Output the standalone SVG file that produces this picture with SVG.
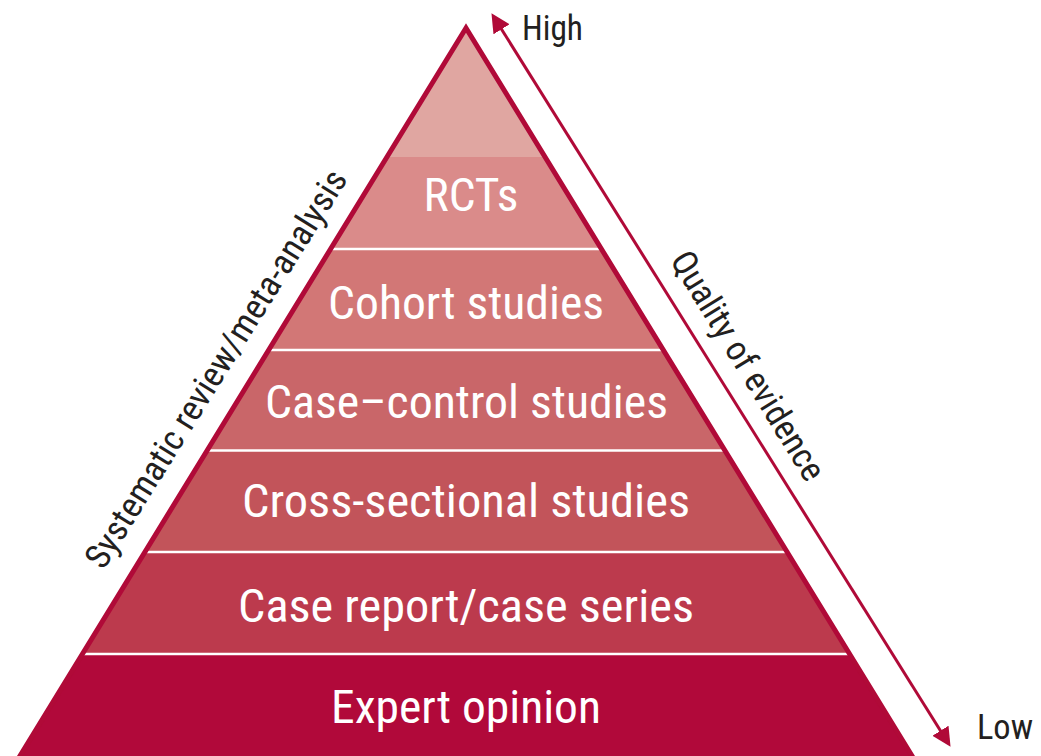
<svg xmlns="http://www.w3.org/2000/svg" width="1041" height="756" viewBox="0 0 1041 756">
  <style>
    .lbl { font-family: 'Liberation Sans Narrow', 'Roboto Condensed', 'DejaVu Sans Condensed', Roboto, sans-serif; font-stretch: condensed; }
    .tier { fill: #ffffff; font-size: 47px; text-anchor: middle; }
    .side { fill: #231f20; font-size: 35px; }
    .sep { stroke: #ffffff; stroke-width: 2.5; }
    .edge { fill: none; stroke: #b00a38; stroke-width: 5; stroke-linejoin: miter; stroke-miterlimit: 10; }
    .axis { stroke: #b00a38; stroke-width: 3; fill: none; }
  </style>
  <defs>
    <clipPath id="tri">
      <polygon points="466,28 -15,813 947,813"/>
    </clipPath>
    <marker id="head" markerUnits="userSpaceOnUse" markerWidth="20" markerHeight="20" refX="8" refY="9.5" orient="auto-start-reverse" viewBox="0 0 20 20">
      <path d="M0,0 L19,9.5 L0,19 z" fill="#b00a38"/>
    </marker>
  </defs>
  <rect width="1041" height="756" fill="#ffffff"/>

  <!-- pyramid tiers, bottom-up fills clipped to the triangle -->
  <g clip-path="url(#tri)">
    <g id="tier-apex"><rect x="0" y="0" width="1041" height="157" fill="#e0a6a1"/></g>
    <g id="tier-rct"><rect x="0" y="157" width="1041" height="92" fill="#da8b8a"/></g>
    <g id="tier-cohort"><rect x="0" y="249" width="1041" height="101" fill="#d27776"/></g>
    <g id="tier-casecontrol"><rect x="0" y="350" width="1041" height="100" fill="#c96669"/></g>
    <g id="tier-crosssectional"><rect x="0" y="450" width="1041" height="102" fill="#c2545a"/></g>
    <g id="tier-casereport"><rect x="0" y="552" width="1041" height="103" fill="#bc3a4d"/></g>
    <g id="tier-expert"><rect x="0" y="655" width="1041" height="110" fill="#b1093a"/></g>
    <line class="sep" x1="0" y1="249" x2="1041" y2="249"/>
    <line class="sep" x1="0" y1="350" x2="1041" y2="350"/>
    <line class="sep" x1="0" y1="450.5" x2="1041" y2="450.5"/>
    <line class="sep" x1="0" y1="552" x2="1041" y2="552"/>
    <line class="sep" x1="0" y1="654" x2="1041" y2="654"/>
  </g>
  <polygon id="pyramid-outline" class="edge" points="466,28 -15,813 947,813"/>

  <!-- tier labels -->
  <g id="labels-tiers" class="lbl">
    <text class="tier" x="471" y="211" textLength="95" lengthAdjust="spacingAndGlyphs">RCTs</text>
    <text class="tier" x="466" y="319" textLength="276" lengthAdjust="spacingAndGlyphs">Cohort studies</text>
    <text class="tier" x="466.5" y="418" textLength="403" lengthAdjust="spacingAndGlyphs">Case–control studies</text>
    <text class="tier" x="466" y="517" textLength="448" lengthAdjust="spacingAndGlyphs">Cross-sectional studies</text>
    <text class="tier" x="466" y="622" textLength="456" lengthAdjust="spacingAndGlyphs">Case report/case series</text>
    <text class="tier" x="466" y="723" textLength="270" lengthAdjust="spacingAndGlyphs">Expert opinion</text>
  </g>

  <!-- quality axis -->
  <g id="connectors">
    <line class="axis" x1="497.3" y1="22.5" x2="944.7" y2="737.5" marker-start="url(#head)" marker-end="url(#head)"/>
  </g>

  <g id="labels-side" class="lbl">
    <text class="side" x="522" y="40" textLength="61" lengthAdjust="spacingAndGlyphs">High</text>
    <text class="side" x="977" y="739" textLength="56" lengthAdjust="spacingAndGlyphs">Low</text>
    <text class="side" text-anchor="middle" transform="translate(226,375) rotate(-58)" textLength="462" lengthAdjust="spacingAndGlyphs">Systematic review/meta-analysis</text>
    <text class="side" text-anchor="middle" transform="translate(738,372) rotate(58.5)" textLength="262" lengthAdjust="spacingAndGlyphs">Quality of evidence</text>
  </g>
</svg>
